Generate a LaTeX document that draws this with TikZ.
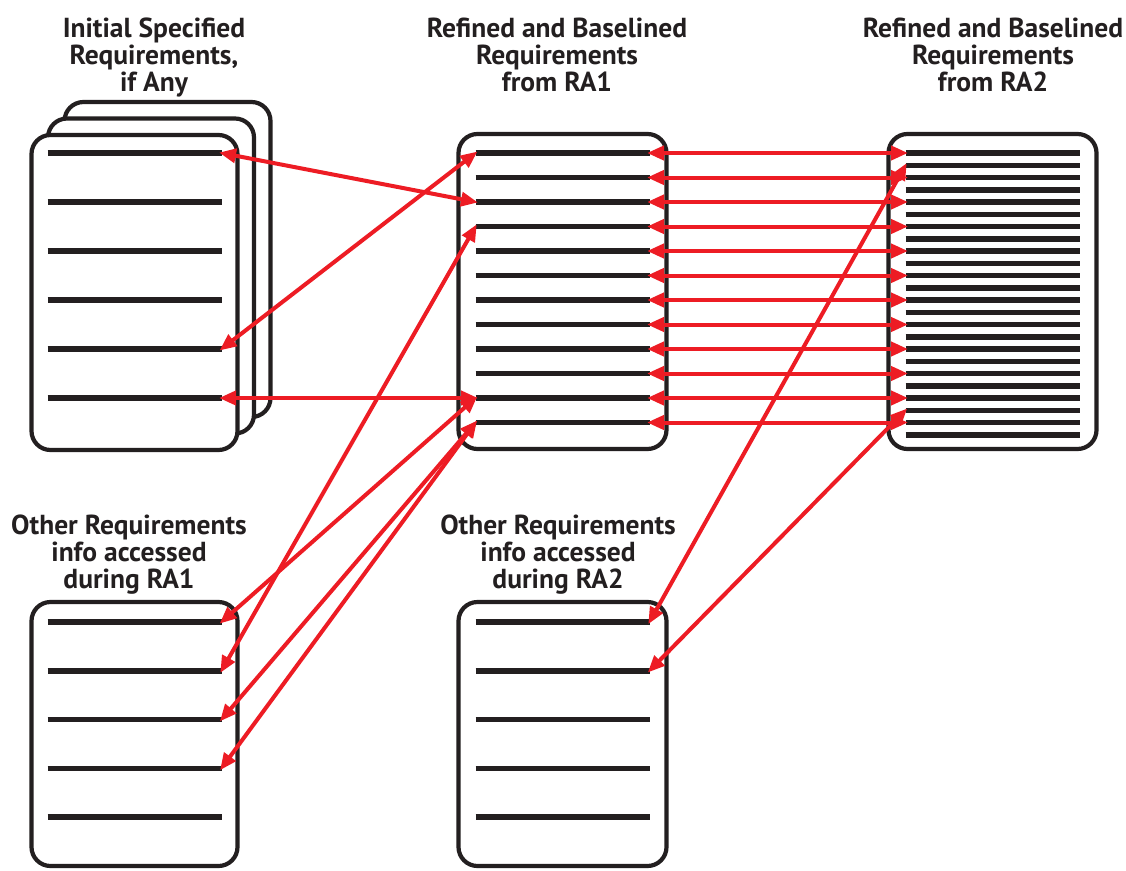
\documentclass[tikz,border=0pt]{standalone}
\usepackage{fontspec}
\setmainfont{PT Sans}
\usetikzlibrary{arrows.meta}
\definecolor{ink}{HTML}{231F20}
\definecolor{linkred}{HTML}{ED1C24}

\begin{document}
\begin{tikzpicture}[x=1pt,y=-1pt,
  doc/.style={draw=ink, line width=4.2pt, rounded corners=19pt, fill=white,
              minimum width=206pt, inner sep=0pt, outer sep=0pt},
  tall/.style={minimum height=315pt},
  short/.style={minimum height=264pt},
  rule/.style={draw=ink, line width=5.5pt},
  trace/.style={draw=linkred, line width=4pt,
                {Triangle[length=17pt,width=14pt]}-{Triangle[length=17pt,width=14pt]},
                shorten <=-2.5pt, shorten >=-2.5pt},
  title/.style={font=\bfseries\fontsize{27.5}{27}\selectfont, align=center,
                text=ink, anchor=base, inner sep=0pt}]

% page
\fill[white] (0,0) rectangle (1126,870);
\useasboundingbox (0,0) rectangle (1126,870);

% stacked initial documents
\node[doc, tall] (A3) at (167.5,259.5) {};
\node[doc, tall] (A2) at (151,276) {};
\node[doc, tall] (A)  at (134.5,292.5) {};
% RA1 and RA2 baselines
\node[doc, tall, minimum width=208pt] (B) at (562.5,291.5) {};
\node[doc, tall, minimum width=208pt] (C) at (992.5,291.5) {};
% other requirements info
\node[doc, short] (D) at (134.5,734) {};
\node[doc, short, minimum width=208pt] (E) at (562.5,734) {};

% requirement lines
\foreach \i in {1,...,6} {
  \pgfmathsetmacro\yy{153+(\i-1)*49}
  \draw[rule] (47.5,\yy) coordinate (A-l\i) -- (221.5,\yy) coordinate (A-r\i);
}
\foreach \i in {1,...,12} {
  \pgfmathsetmacro\yy{153+(\i-1)*24.5}
  \draw[rule] (475.5,\yy) coordinate (B-l\i) -- (649.5,\yy) coordinate (B-r\i);
}
\foreach \i in {1,...,24} {
  \pgfmathsetmacro\yy{153+(\i-1)*12.25}
  \draw[rule] (905.5,\yy) coordinate (C-l\i) -- (1079.5,\yy) coordinate (C-r\i);
}
\foreach \i in {1,...,5} {
  \pgfmathsetmacro\yy{622+(\i-1)*48.75}
  \draw[rule] (47.5,\yy) coordinate (D-l\i) -- (221.5,\yy) coordinate (D-r\i);
  \draw[rule] (475.5,\yy) coordinate (E-l\i) -- (649.5,\yy) coordinate (E-r\i);
}

% traceability links
\draw[trace] (A-r1) -- (B-l3);
\draw[trace] (A-r5) -- (B-l1);
\draw[trace] (A-r6) -- (B-l11);
\draw[trace] (B-l4) -- (D-r2);
\draw[trace] (B-l11) -- (D-r1);
\draw[trace] (B-l12) -- (D-r3);
\draw[trace] (B-l12) -- (D-r4);
\foreach \i [evaluate=\i as \k using {int(2*\i-1)}] in {1,...,12}
  \draw[trace] (B-r\i) -- (C-l\k);
\draw[trace] (C-l2) -- (E-r1);
\draw[trace] (C-l22) -- (E-r2);

% titles (anchored at the baseline of their last line)
\node[title] (tA) at (154,91) {Initial Specified\\Requirements,\\if Any};
\node[title] (tB) at (557,91) {Refined and Baselined\\Requirements\\from RA1};
\node[title] (tC) at (993,91) {Refined and Baselined\\Requirements\\from RA2};
\node[title] (tD) at (129,588) {Other Requirements\\info accessed\\during RA1};
\node[title] (tE) at (558,588) {Other Requirements\\info accessed\\during RA2};
\end{tikzpicture}
\end{document}
